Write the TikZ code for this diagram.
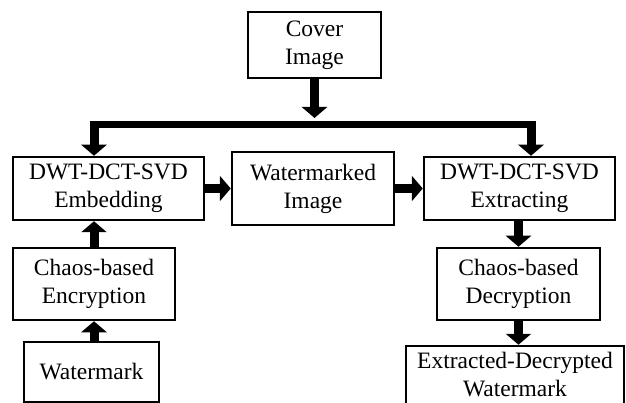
\documentclass[tikz,border=0pt]{standalone}
\usepackage{fontspec}
\setmainfont{Liberation Serif}
\usetikzlibrary{arrows.meta}
\begin{document}
\begin{tikzpicture}[x=1pt,y=-1pt,
  box/.style={draw, line width=2.5pt, align=center, inner sep=0pt, fill=white,
    font=\fontsize{23.5}{28}\selectfont},
  arr/.style={line width=9pt, line cap=butt, -{Triangle[width=25pt,length=11pt]}},
  barline/.style={line width=7pt, line cap=butt}]
\clip (0,0) rectangle (626,403);
\fill[white] (0,0) rectangle (626,403);
\node[box, minimum width=133pt, minimum height=66pt] (cover) at (314.5,45) {Cover\\Image};
\node[box, minimum width=191pt, minimum height=63pt] (emb) at (108.5,188.5) {DWT-DCT-SVD\\Embedding};
\node[box, minimum width=162pt, minimum height=73pt] (wm) at (313,188.5) {Watermarked\\Image};
\node[box, minimum width=191pt, minimum height=63pt] (ext) at (519.5,188.5) {DWT-DCT-SVD\\Extracting};
\node[box, minimum width=162pt, minimum height=72pt] (enc) at (94,284) {Chaos-based\\Encryption};
\node[box, minimum width=135pt, minimum height=60pt] (wmk) at (91.5,372) {Watermark};
\node[box, minimum width=163pt, minimum height=72pt] (dec) at (518.5,284) {Chaos-based\\Decryption};
\node[box, minimum width=218pt, minimum height=58pt] (xd) at (515,375) {Extracted-Decrypted\\Watermark};
\coordinate (ctip) at (314.5,118);
\coordinate (bl0) at (89.5,125);
\coordinate (br0) at (535.5,125);
\coordinate (bl) at (94,125);
\coordinate (br) at (531,125);
\draw[arr] (cover.south) -- (ctip);
\draw[barline] (bl0) -- (br0);
\draw[arr] (bl) -- (bl |- emb.north);
\draw[arr] (br) -- (br |- ext.north);
\draw[arr] (emb.east) -- (wm.west);
\draw[arr] (wm.east) -- (ext.west);
\draw[arr] (enc.south |- wmk.north) -- (enc.south);
\draw[arr] (enc.north) -- (enc.north |- emb.south);
\draw[arr] (dec.north |- ext.south) -- (dec.north);
\draw[arr] (dec.south) -- (dec.south |- xd.north);
\end{tikzpicture}
\end{document}
